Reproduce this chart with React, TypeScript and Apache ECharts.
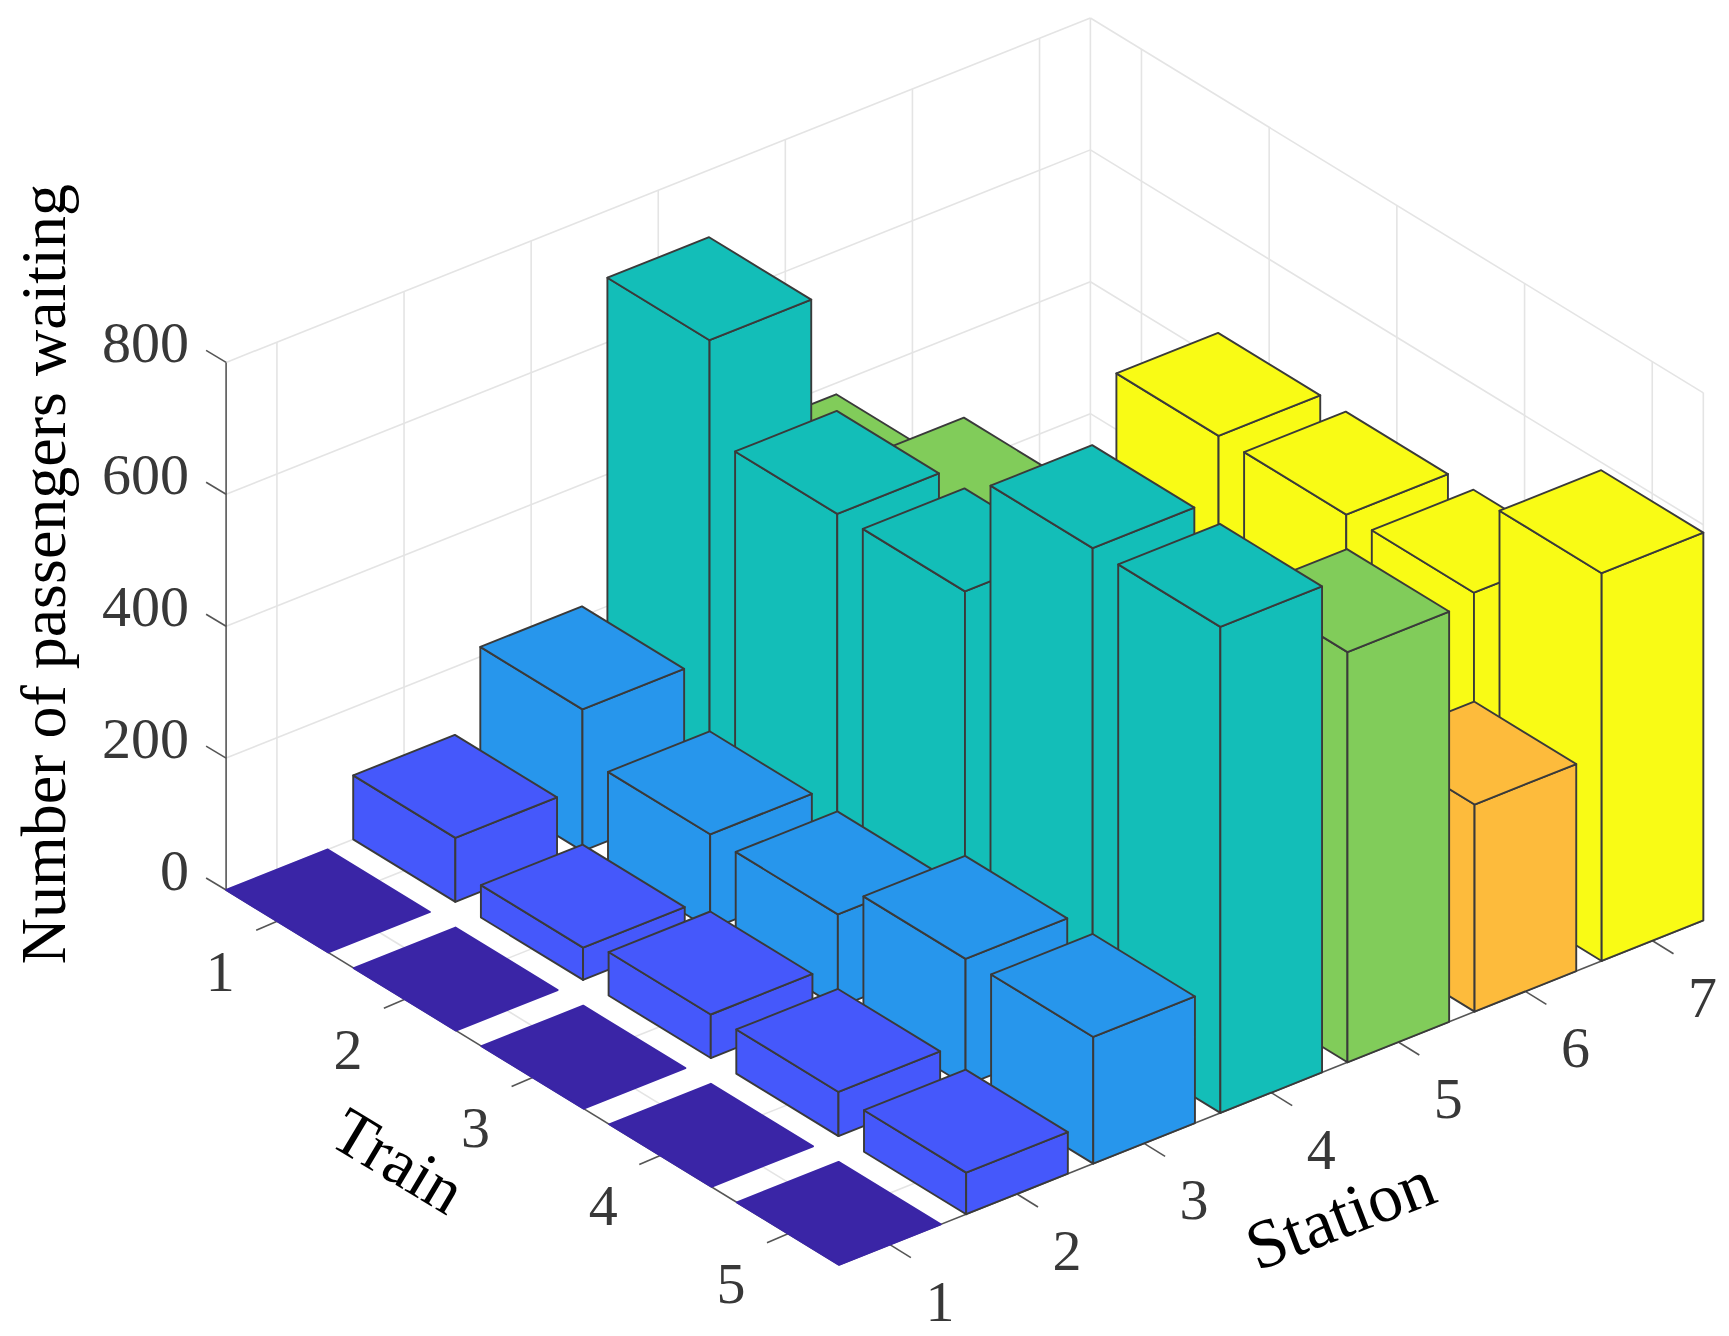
import React, { useEffect, useRef } from "react";
import * as echarts from "echarts";

const WIDTH = 1729;
const HEIGHT = 1336;

const trains = [1, 2, 3, 4, 5];
const stations = [1, 2, 3, 4, 5, 6, 7];
const passengerTicks = [0, 200, 400, 600, 800];

// Number of passengers waiting; each list runs over trains 1..5.
const station1Values = [0, 0, 0, 0, 0];
const station2Values = [97, 49, 66, 67, 63];
const station3Values = [215, 144, 141, 192, 192];
const station4Values = [698, 553, 554, 738, 737];
const station5Values = [383, 466, 400, 400, 622];
const station6Values = [100, 150, 200, 250, 314];
const station7Values = [100, 441, 440, 440, 588];
const stationValues = [
  station1Values,
  station2Values,
  station3Values,
  station4Values,
  station5Values,
  station6Values,
  station7Values,
];

const stationColors = ["#3A25A6", "#4558FB", "#2796EC", "#13BEB8", "#81CC5A", "#FDBB3C", "#F9FB15"];
const EDGE = "#3a3a3a";
const GRID = "#e4e4e4";
const AXIS = "#555555";
const TICK_TEXT = "#383838";
const FONT = "Liberation Serif";

// Oblique projection of the 3D box on to the page plane.
const T_MIN = 0.6;
const T_MAX = 5.4;
const S_MIN = 0.6;
const S_MAX = 7.4;
const Z_MAX = 800;
const ORIGIN = [226.1, 890];
const T_VEC = [127.7, 78.1];
const S_VEC = [127.1, -50.65];
const Z_SCALE = 0.6595;
const HALF = 0.4;

function project(t: number, s: number, z: number): number[] {
  return [
    ORIGIN[0] + (t - T_MIN) * T_VEC[0] + (s - S_MIN) * S_VEC[0],
    ORIGIN[1] + (t - T_MIN) * T_VEC[1] + (s - S_MIN) * S_VEC[1] - z * Z_SCALE,
  ];
}

type Seg = [number, number, number, number, number, number];

const gridSegments: Seg[] = [];
passengerTicks.forEach((z) => {
  gridSegments.push([T_MIN, S_MIN, z, T_MIN, S_MAX, z]);
  gridSegments.push([T_MIN, S_MAX, z, T_MAX, S_MAX, z]);
});
stations.forEach((s) => {
  gridSegments.push([T_MIN, s, 0, T_MIN, s, Z_MAX]);
  gridSegments.push([T_MIN, s, 0, T_MAX, s, 0]);
});
trains.forEach((t) => {
  gridSegments.push([t, S_MAX, 0, t, S_MAX, Z_MAX]);
  gridSegments.push([t, S_MIN, 0, t, S_MAX, 0]);
});
gridSegments.push([T_MIN, S_MAX, 0, T_MIN, S_MAX, Z_MAX]);
gridSegments.push([T_MAX, S_MAX, 0, T_MAX, S_MAX, Z_MAX]);

const axisSegments: Seg[] = [
  [T_MIN, S_MIN, 0, T_MIN, S_MIN, Z_MAX],
  [T_MIN, S_MIN, 0, T_MAX, S_MIN, 0],
  [T_MAX, S_MIN, 0, T_MAX, S_MAX, 0],
];

const barData: number[][] = [];
trains.forEach((t, ti) => {
  for (let si = stations.length - 1; si >= 0; si--) {
    barData.push([t, stations[si], stationValues[si][ti], si]);
  }
});

type Label = {
  text: string;
  at: number[];
  dx: number;
  dy: number;
  size: number;
  fill: string;
  align: string;
  angle: number;
};

const labels: Label[] = [
  ...passengerTicks.map((z) => ({
    text: String(z),
    at: [T_MIN, S_MIN, z],
    dx: -37,
    dy: -20,
    size: 58,
    fill: TICK_TEXT,
    align: "right",
    angle: 0,
  })),
  ...trains.map((t) => ({
    text: String(t),
    at: [t, S_MIN, 0],
    dx: -57,
    dy: 50,
    size: 58,
    fill: TICK_TEXT,
    align: "center",
    angle: 0,
  })),
  ...stations.map((s) => ({
    text: String(s),
    at: [T_MAX, s, 0],
    dx: 50,
    dy: 56.5,
    size: 58,
    fill: TICK_TEXT,
    align: "center",
    angle: 0,
  })),
  { text: "Train", at: [3, S_MIN, 0], dx: -134, dy: 83, size: 66, fill: "#000000", align: "center", angle: -31 },
  { text: "Station", at: [T_MAX, 4, 0], dx: 69, dy: 122, size: 69, fill: "#000000", align: "center", angle: 21 },
  {
    text: "Number of passengers waiting",
    at: [T_MIN, S_MIN, 400],
    dx: -183,
    dy: -52,
    size: 64,
    fill: "#000000",
    align: "center",
    angle: 90,
  },
];

function segmentSeries(segments: Seg[], stroke: string, z: number) {
  return {
    type: "custom",
    coordinateSystem: "cartesian2d",
    silent: true,
    z,
    data: segments,
    encode: { x: 0, y: 1 },
    renderItem: (_p: any, api: any) => {
      const a = api.coord(project(api.value(0), api.value(1), api.value(2)));
      const b = api.coord(project(api.value(3), api.value(4), api.value(5)));
      return {
        type: "line",
        shape: { x1: a[0], y1: a[1], x2: b[0], y2: b[1] },
        style: { stroke, lineWidth: 1.6 },
      };
    },
  };
}

const tickSegments: number[][] = [
  ...passengerTicks.map((z) => [T_MIN, S_MIN, z, -20, -12]),
  ...trains.map((t) => [t, S_MIN, 0, -21, 9]),
  ...stations.map((s) => [T_MAX, s, 0, 21, 13]),
];

function App() {
  const ref = useRef<HTMLDivElement>(null);

  useEffect(() => {
    if (!ref.current) return;
    const chart = echarts.init(ref.current, undefined, { renderer: "svg" });
    chart.setOption({
      animation: false,
      backgroundColor: "#ffffff",
      tooltip: { show: false },
      grid: { left: 0, top: 0, right: 0, bottom: 0 },
      xAxis: { type: "value", min: 0, max: WIDTH, show: false },
      yAxis: { type: "value", min: 0, max: HEIGHT, inverse: true, show: false },
      series: [
        segmentSeries(gridSegments, GRID, 1),
        segmentSeries(axisSegments, AXIS, 2),
        {
          type: "custom",
          coordinateSystem: "cartesian2d",
          silent: true,
          z: 2,
          data: tickSegments,
          encode: { x: 0, y: 1 },
          renderItem: (_p: any, api: any) => {
            const a = api.coord(project(api.value(0), api.value(1), api.value(2)));
            const dx = api.value(3);
            const dy = api.value(4);
            return {
              type: "line",
              shape: { x1: a[0], y1: a[1], x2: a[0] + dx, y2: a[1] + dy },
              style: { stroke: AXIS, lineWidth: 1.6 },
            };
          },
        },
        {
          type: "custom",
          coordinateSystem: "cartesian2d",
          silent: true,
          z: 3,
          data: barData,
          encode: { x: 0, y: 1 },
          renderItem: (_p: any, api: any) => {
            const t = api.value(0);
            const s = api.value(1);
            const v = api.value(2);
            const color = stationColors[api.value(3)];
            const pt = (tt: number, ss: number, zz: number) => api.coord(project(tt, ss, zz));
            const front = pt(t + HALF, s - HALF, v);
            const left = pt(t - HALF, s - HALF, v);
            const right = pt(t + HALF, s + HALF, v);
            const back = pt(t - HALF, s + HALF, v);
            const frontB = pt(t + HALF, s - HALF, 0);
            const leftB = pt(t - HALF, s - HALF, 0);
            const rightB = pt(t + HALF, s + HALF, 0);
            const stroke = v === 0 ? color : EDGE;
            const style = { fill: color, stroke, lineWidth: 1.9, lineJoin: "round" };
            const children: any[] = [];
            if (v > 0) {
              children.push({ type: "polygon", shape: { points: [left, front, frontB, leftB] }, style });
              children.push({ type: "polygon", shape: { points: [front, right, rightB, frontB] }, style });
            }
            children.push({ type: "polygon", shape: { points: [left, back, right, front] }, style });
            return { type: "group", children };
          },
        },
        {
          type: "custom",
          coordinateSystem: "cartesian2d",
          silent: true,
          z: 4,
          data: labels.map((l) => [l.at[0], l.at[1], l.at[2]]),
          encode: { x: 0, y: 1 },
          renderItem: (p: any, api: any) => {
            const l = labels[p.dataIndex];
            const c = api.coord(project(api.value(0), api.value(1), api.value(2)));
            return {
              type: "text",
              x: c[0] + l.dx,
              y: c[1] + l.dy,
              rotation: (l.angle * Math.PI) / 180,
              style: {
                text: l.text,
                fontFamily: FONT,
                fontSize: l.size,
                fill: l.fill,
                align: l.align,
                verticalAlign: "middle",
              },
            };
          },
        },
      ],
    });
    return () => chart.dispose();
  }, []);

  return (
    <div
      ref={ref}
      style={{ position: "absolute", left: 0, top: 0, width: WIDTH, height: HEIGHT }}
    />
  );
}

export default App;
